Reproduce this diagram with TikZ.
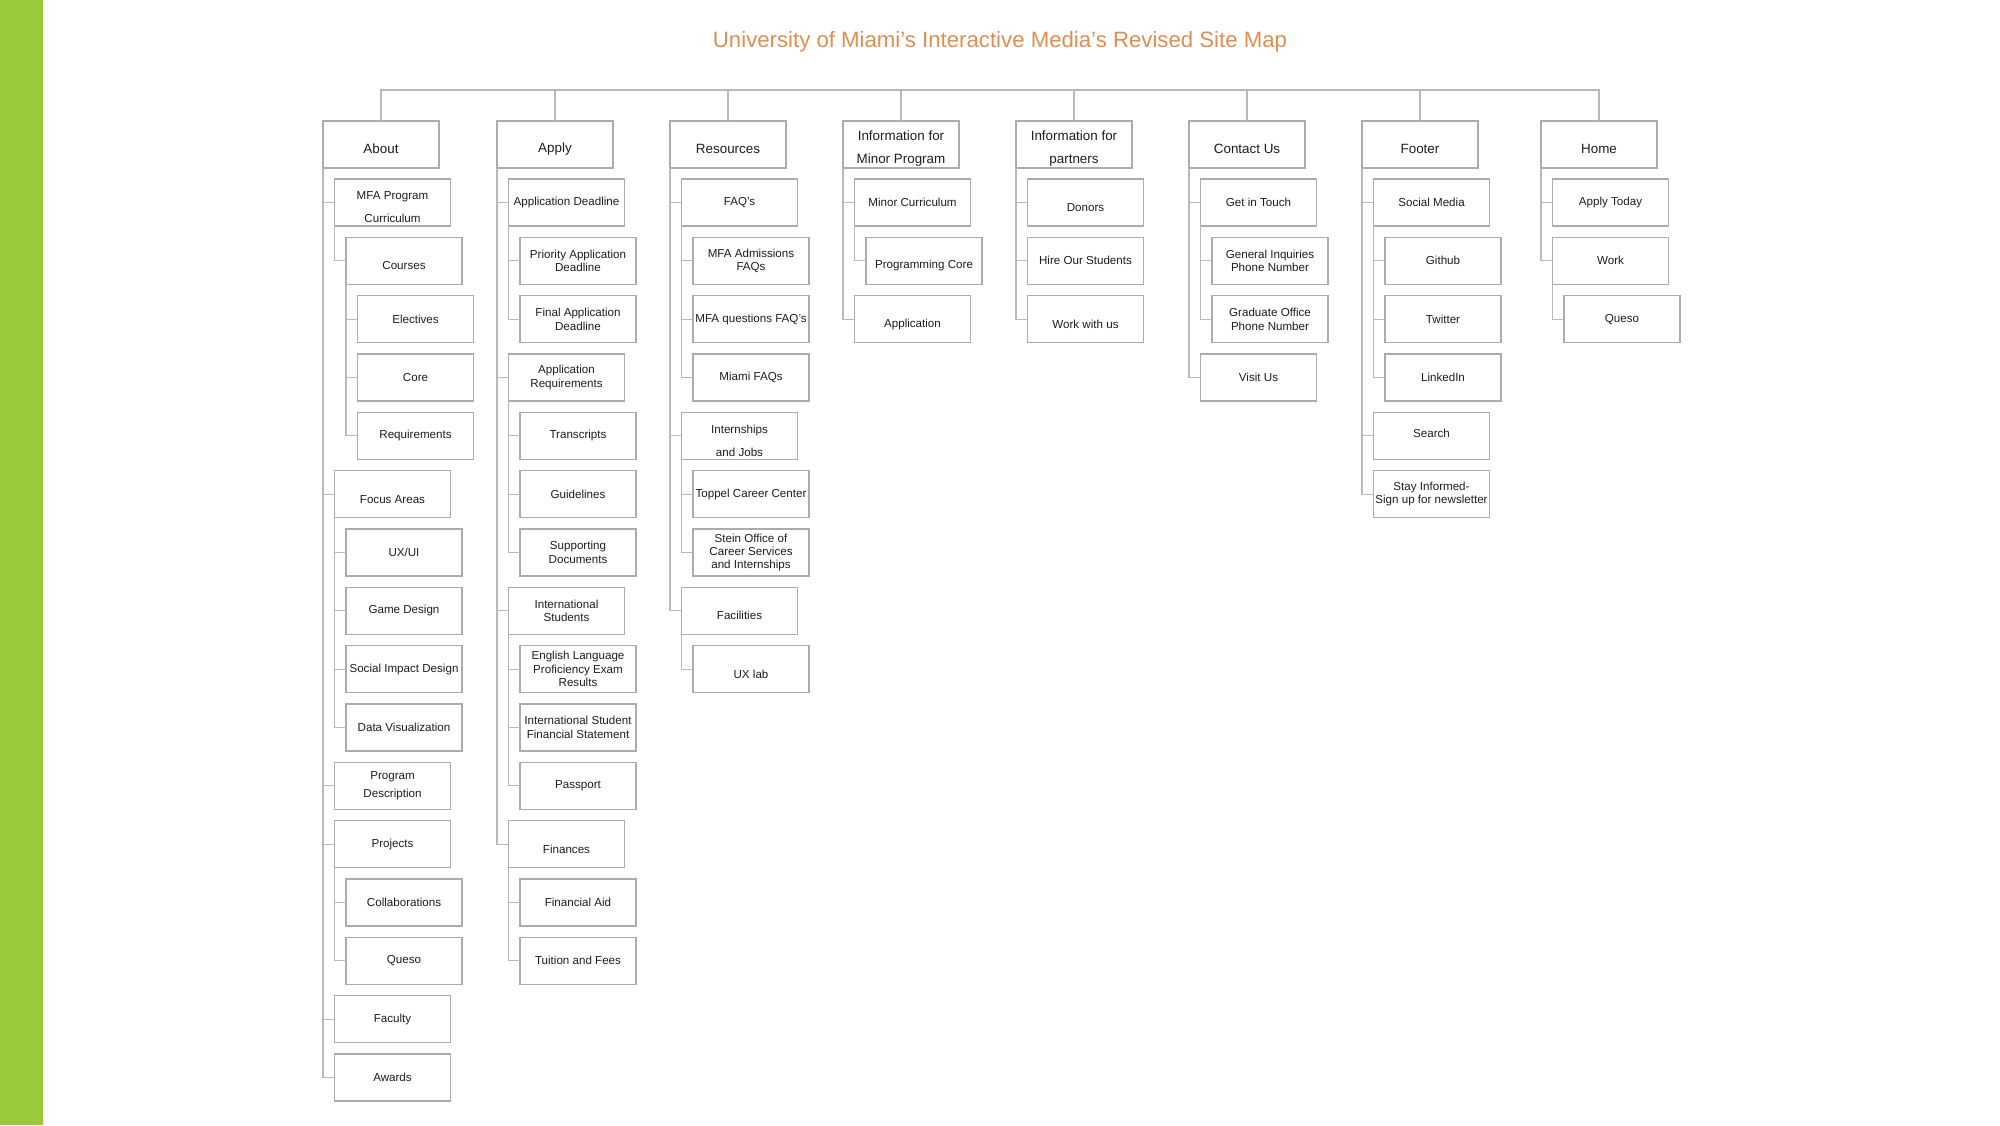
\documentclass[tikz,border=0pt]{standalone}
\usepackage{fontspec}
\setmainfont{Liberation Sans}
\definecolor{umgreen}{RGB}{154,202,60}
\definecolor{umorange}{RGB}{226,141,80}
\definecolor{boxgray}{RGB}{172,172,172}
\definecolor{linegray}{RGB}{185,185,185}
\definecolor{ink}{RGB}{30,30,30}
\newcommand{\dn}{\rule{0pt}{9pt}}
\newcommand{\up}{\rule[-3pt]{0pt}{3pt}}
\begin{document}
\begin{tikzpicture}[x=0.5pt,y=-0.5pt,
  page/.style={draw=boxgray,line width=0.6pt,fill=white,text=ink,anchor=north west,
    minimum width=58pt,minimum height=23.5pt,inner sep=0pt,outer sep=0pt,align=center,
    font=\fontsize{5.8}{6.7}\selectfont},
  head/.style={page,font=\fontsize{6.7}{7.7}\selectfont},
  link/.style={draw=linegray,line width=0.6pt}]
\useasboundingbox (0,0) rectangle (2000,1125);
\fill[umgreen] (0,0) rectangle (43,1125); % bande
\node[anchor=base,text=umorange,font=\fontsize{11.1}{13}\selectfont] (title) at (1000,47.3)
  {University of Miami’s Interactive Media’s Revised Site Map};
%
\node[head] (about) at (323,121) {\dn About};
\node[page] (mfa) at (334.5,179) {\dn MFA Program\\[4.8pt]Curriculum};
\node[page] (courses) at (346,237.3) {\dn Courses};
\node[page] (electives) at (357.5,295.7) {Electives};
\node[page] (core) at (357.5,354) {Core};
\node[page] (req) at (357.5,412.3) {Requirements};
\node[page] (focus) at (334.5,470.7) {\dn Focus Areas};
\node[page] (uxui) at (346,529) {UX/UI};
\node[page] (game) at (346,587.3) {Game Design};
\node[page] (social) at (346,645.7) {Social Impact Design};
\node[page] (dataviz) at (346,704) {Data Visualization};
\node[page] (progdesc) at (334.5,762.3) {Program\\[2.3pt]Description};
\node[page] (projects) at (334.5,820.7) {Projects};
\node[page] (collab) at (346,879) {Collaborations};
\node[page] (queso) at (346,937.3) {Queso};
\node[page] (faculty) at (334.5,995.7) {Faculty};
\node[page] (awards) at (334.5,1054) {Awards}; % About
%
\node[head] (apply) at (497,121) {\dn Apply};
\node[page] (deadline) at (508.5,179) {Application Deadline};
\node[page] (priority) at (520,237.3) {Priority Application\\Deadline};
\node[page] (final) at (520,295.7) {Final Application\\Deadline};
\node[page] (appreq) at (508.5,354) {Application\\Requirements};
\node[page] (transcripts) at (520,412.3) {Transcripts};
\node[page] (guidelines) at (520,470.7) {Guidelines};
\node[page] (supporting) at (520,529) {Supporting\\Documents};
\node[page] (intl) at (508.5,587.3) {International\\Students};
\node[page] (english) at (520,645.7) {English Language\\Proficiency Exam\\Results};
\node[page] (statement) at (520,704) {International Student\\Financial Statement};
\node[page] (passport) at (520,762.3) {Passport};
\node[page] (finances) at (508.5,820.7) {\dn Finances};
\node[page] (aid) at (520,879) {Financial Aid};
\node[page] (tuition) at (520,937.3) {Tuition and Fees}; % Apply
%
\node[head] (resources) at (670,121) {\dn Resources};
\node[page] (faqs) at (681.5,179) {FAQ’s};
\node[page] (admissions) at (693,237.3) {MFA Admissions\\FAQs};
\node[page] (questions) at (693,295.7) {MFA questions FAQ’s};
\node[page] (miami) at (693,354) {Miami FAQs};
\node[page] (intern) at (681.5,412.3) {\dn Internships\\[4.8pt]and Jobs};
\node[page] (toppel) at (693,470.7) {Toppel Career Center};
\node[page] (stein) at (693,529) {Stein Office of\\Career Services\\and Internships};
\node[page] (facilities) at (681.5,587.3) {\dn Facilities};
\node[page] (uxlab) at (693,645.7) {\dn UX lab}; % Resources
%
\node[head] (minor) at (843,121) {\dn Information for\\[3.8pt]Minor Program};
\node[page] (mcurr) at (854.5,179) {Minor Curriculum};
\node[page] (progcore) at (866,237.3) {\dn Programming Core};
\node[page] (application) at (854.5,295.7) {\dn Application};
%
\node[head] (partners) at (1016,121) {\dn Information for\\[3.8pt]partners};
\node[page] (donors) at (1027.5,179) {\dn Donors};
\node[page] (hire) at (1027.5,237.3) {Hire Our Students};
\node[page] (workwith) at (1027.5,295.7) {\dn Work with us};
%
\node[head] (contact) at (1189,121) {\dn Contact Us};
\node[page] (touch) at (1200.5,179) {Get in Touch};
\node[page] (inquiries) at (1212,237.3) {General Inquiries\\Phone Number};
\node[page] (gradoffice) at (1212,295.7) {Graduate Office\\Phone Number};
\node[page] (visit) at (1200.5,354) {Visit Us};
%
\node[head] (footer) at (1362,121) {\dn Footer};
\node[page] (socialmedia) at (1373.5,179) {Social Media};
\node[page] (github) at (1385,237.3) {Github};
\node[page] (twitter) at (1385,295.7) {Twitter};
\node[page] (linkedin) at (1385,354) {LinkedIn};
\node[page] (search) at (1373.5,412.3) {Search\up};
\node[page] (newsletter) at (1373.5,470.7) {Stay Informed-\\Sign up for newsletter};
%
\node[head] (home) at (1541,121) {\dn Home};
\node[page] (applytoday) at (1552.5,179) {Apply Today};
\node[page] (work) at (1552.5,237.3) {Work};
\node[page] (hqueso) at (1564,295.7) {Queso};
%
\coordinate (bar) at (0,90);
\draw[link] (about.north) |- (home.north |- bar) -- (home.north); % barre
\foreach \t in {apply,resources,minor,partners,contact,footer}
  \draw[link] (\t.north) -- (\t.north |- bar);
%
\foreach \p/\c in {about/mfa,about/focus,about/progdesc,about/projects,about/faculty,about/awards,
  mfa/courses,courses/electives,courses/core,courses/req,
  focus/uxui,focus/game,focus/social,focus/dataviz,projects/collab,projects/queso,
  apply/deadline,apply/appreq,apply/intl,apply/finances,
  deadline/priority,deadline/final,appreq/transcripts,appreq/guidelines,appreq/supporting,
  intl/english,intl/statement,intl/passport,finances/aid,finances/tuition,
  resources/faqs,resources/intern,resources/facilities,
  faqs/admissions,faqs/questions,faqs/miami,intern/toppel,intern/stein,facilities/uxlab,
  minor/mcurr,minor/application,mcurr/progcore,
  partners/donors,partners/hire,partners/workwith,
  contact/touch,contact/visit,touch/inquiries,touch/gradoffice,
  footer/socialmedia,footer/search,footer/newsletter,
  socialmedia/github,socialmedia/twitter,socialmedia/linkedin,
  home/applytoday,home/work,work/hqueso}
  \draw[link] (\p.south west) |- (\c.west); % liens
\end{tikzpicture}
\end{document}
